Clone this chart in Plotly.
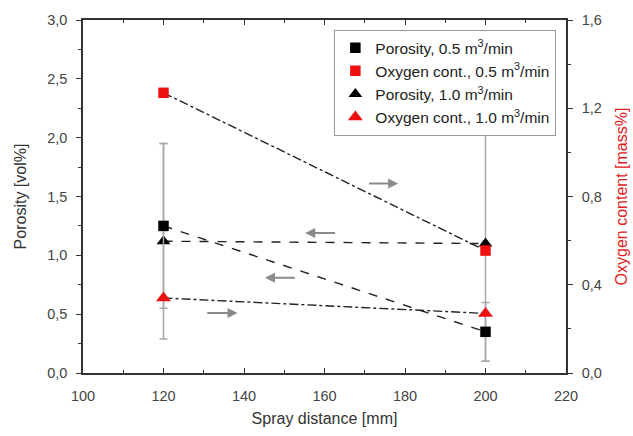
import plotly.graph_objects as go

# ---- data ----
spray_distance = [120, 200]
porosity_05 = [1.25, 0.35]
porosity_05_err = [0.70, 0.25]
porosity_10 = [1.12, 1.10]
porosity_10_err = [0.83, 1.00]
oxygen_05 = [1.27, 0.555]
oxygen_10 = [0.34, 0.27]

x_ticks = [100, 120, 140, 160, 180, 200, 220]
y_ticks = [0, 0.5, 1.0, 1.5, 2.0, 2.5, 3.0]
y2_ticks = [0, 0.4, 0.8, 1.2, 1.6]

# decorative arrows: (tail x, head x, y on left axis)
arrows = [
    (170.7, 178.3, 1.61),
    (163.0, 155.2, 1.19),
    (153.0, 145.2, 0.81),
    (130.5, 138.4, 0.51),
]

FONT = "Arial, Liberation Sans, sans-serif"
LINE = "#222222"
ERR = "#a8a8a8"

fig = go.Figure()

# connecting lines (no legend)
fig.add_trace(go.Scatter(x=spray_distance, y=porosity_05, mode="lines",
                         line=dict(color=LINE, width=1.4, dash="dash"), showlegend=False))
fig.add_trace(go.Scatter(x=spray_distance, y=porosity_10, mode="lines",
                         line=dict(color=LINE, width=1.4, dash="dash"), showlegend=False))
fig.add_trace(go.Scatter(x=spray_distance, y=oxygen_05, mode="lines", yaxis="y2",
                         line=dict(color=LINE, width=1.4, dash="dashdot"), showlegend=False))
fig.add_trace(go.Scatter(x=spray_distance, y=oxygen_10, mode="lines", yaxis="y2",
                         line=dict(color=LINE, width=1.4, dash="dashdot"), showlegend=False))

# markers
fig.add_trace(go.Scatter(x=spray_distance, y=porosity_10, mode="markers",
                         name="Porosity, 1.0 m<sup>3</sup>/min", legendrank=3,
                         marker=dict(symbol="triangle-up", size=12, color="black"),
                         error_y=dict(type="data", array=porosity_10_err, color=ERR,
                                      thickness=1.5, width=4)))
fig.add_trace(go.Scatter(x=spray_distance, y=porosity_05, mode="markers",
                         name="Porosity, 0.5 m<sup>3</sup>/min", legendrank=1,
                         marker=dict(symbol="square", size=10.5, color="black"),
                         error_y=dict(type="data", array=porosity_05_err, color=ERR,
                                      thickness=1.5, width=4)))
fig.add_trace(go.Scatter(x=spray_distance, y=oxygen_05, mode="markers", yaxis="y2",
                         name="Oxygen cont., 0.5 m<sup>3</sup>/min", legendrank=2,
                         marker=dict(symbol="square", size=10.5, color="#ee1111")))
fig.add_trace(go.Scatter(x=spray_distance, y=oxygen_10, mode="markers", yaxis="y2",
                         name="Oxygen cont., 1.0 m<sup>3</sup>/min", legendrank=4,
                         marker=dict(symbol="triangle-up", size=13, color="#ee1111")))

for tx, hx, yy in arrows:
    fig.add_annotation(x=hx, y=yy, ax=tx, ay=yy, xref="x", yref="y", axref="x", ayref="y",
                       showarrow=True, arrowhead=2, arrowsize=1, arrowwidth=2,
                       arrowcolor="#8a8a8a", text="")

axis_common = dict(showline=True, linecolor="#333333", linewidth=1.5, showgrid=False,
                   zeroline=False, tickcolor="#333333", ticklen=5, tickwidth=1.3,
                   automargin=False,
                   tickfont=dict(family=FONT, size=14.5, color="#444444"))

fig.update_layout(
    width=633, height=436,
    margin=dict(l=83, r=67, t=20, b=63),
    paper_bgcolor="white", plot_bgcolor="white",
    separators=",.",
    font=dict(family=FONT, color="#333333"),
    xaxis=dict(range=[100, 220], tickvals=x_ticks, ticks="inside", mirror="ticks",
               ticklabelstandoff=9,
               minor=dict(ticks="inside", dtick=10, ticklen=3, tickcolor="#333333"),
               title=dict(text="Spray distance [mm]", font=dict(family=FONT, size=16, color="#333333"),
                          standoff=10),
               **axis_common),
    yaxis=dict(range=[0, 3.0], tickvals=y_ticks, tickformat=".1f", ticks="outside",
               ticklabelstandoff=6,
               minor=dict(ticks="outside", dtick=0.25, ticklen=3, tickcolor="#333333"),
               title=dict(text="Porosity [vol%]", font=dict(family=FONT, size=16, color="#333333"),
                          standoff=17),
               **axis_common),
    yaxis2=dict(range=[0, 1.6], tickvals=y2_ticks, tickformat=".1f", ticks="outside",
                overlaying="y", side="right", ticklabelstandoff=6,
                minor=dict(ticks="outside", dtick=0.2, ticklen=3, tickcolor="#333333"),
                title=dict(text="Oxygen content [mass%]", font=dict(family=FONT, size=16, color="#e02020"),
                           standoff=15),
                **axis_common),
    legend=dict(x=0.52, y=0.972, xanchor="left", yanchor="top",
                bgcolor="white", bordercolor="#999999", borderwidth=1.2,
                font=dict(family=FONT, size=15.5, color="#222222"),
                tracegroupgap=0, itemwidth=30),
)

fig.write_html("out.html")
